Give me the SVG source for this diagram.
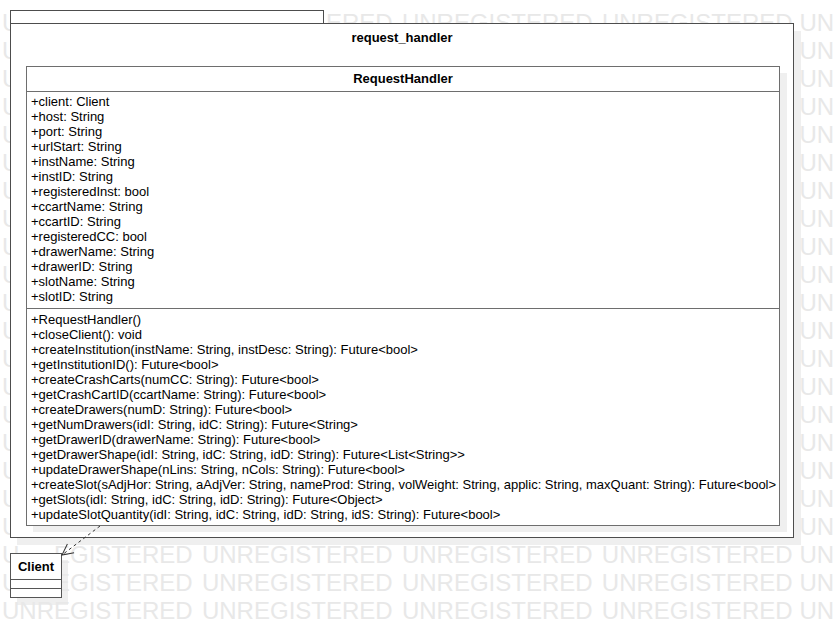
<svg xmlns="http://www.w3.org/2000/svg" width="834" height="638" viewBox="0 0 834 638">
  <defs>
    <style>
      .wm { font-family: "Liberation Sans", Arial, sans-serif; font-size: 24px; fill: #e8e8e8; word-spacing: 2.6px; }
      .shadow { fill: #efefef; stroke: none; }
      .box { fill: #ffffff; stroke: #6e6e6e; stroke-width: 1; }
      .pkg { fill: #ffffff; stroke: #4d4d4d; stroke-width: 1; }
      .sep { stroke: #6e6e6e; stroke-width: 1; fill: none; }
      .csep { stroke: #555555; stroke-width: 1; fill: none; }
      .title { font-family: "Liberation Sans", Arial, sans-serif; font-size: 13px; font-weight: bold; fill: #000000; text-anchor: middle; }
      .mem { font-family: "Liberation Sans", Arial, sans-serif; font-size: 13px; fill: #000000; }
      .dep { stroke: #333333; stroke-width: 1; fill: none; stroke-dasharray: 3 3; }
    </style>
    <marker id="openArrow" markerWidth="14" markerHeight="14" refX="12" refY="7" orient="auto" markerUnits="userSpaceOnUse">
      <path d="M1,1.5 L12,7 L1,12.5" fill="none" stroke="#333333" stroke-width="1"/>
    </marker>
  </defs>

  <rect width="834" height="638" fill="#ffffff"/>

  <!-- outer shadows -->
  <rect class="shadow" x="17" y="31" width="784" height="514"/>
  <rect class="shadow" x="17" y="560" width="51" height="45"/>

  <g id="watermark">
    <text class="wm" x="2" y="31">U</text>
    <text class="wm" x="326" y="31">ERED UNREGISTERED UNREGISTERED</text>
    <text class="wm" x="799.5" y="31">UN</text>
    <text class="wm" x="2" y="59">U</text><text class="wm" x="799.5" y="59">UN</text>
    <text class="wm" x="2" y="87">U</text><text class="wm" x="799.5" y="87">UN</text>
    <text class="wm" x="2" y="115">U</text><text class="wm" x="799.5" y="115">UN</text>
    <text class="wm" x="2" y="143">U</text><text class="wm" x="799.5" y="143">UN</text>
    <text class="wm" x="2" y="171">U</text><text class="wm" x="799.5" y="171">UN</text>
    <text class="wm" x="2" y="199">U</text><text class="wm" x="799.5" y="199">UN</text>
    <text class="wm" x="2" y="227">U</text><text class="wm" x="799.5" y="227">UN</text>
    <text class="wm" x="2" y="255">U</text><text class="wm" x="799.5" y="255">UN</text>
    <text class="wm" x="2" y="283">U</text><text class="wm" x="799.5" y="283">UN</text>
    <text class="wm" x="2" y="311">U</text><text class="wm" x="799.5" y="311">UN</text>
    <text class="wm" x="2" y="339">U</text><text class="wm" x="799.5" y="339">UN</text>
    <text class="wm" x="2" y="367">U</text><text class="wm" x="799.5" y="367">UN</text>
    <text class="wm" x="2" y="395">U</text><text class="wm" x="799.5" y="395">UN</text>
    <text class="wm" x="2" y="423">U</text><text class="wm" x="799.5" y="423">UN</text>
    <text class="wm" x="2" y="451">U</text><text class="wm" x="799.5" y="451">UN</text>
    <text class="wm" x="2" y="479">U</text><text class="wm" x="799.5" y="479">UN</text>
    <text class="wm" x="2" y="507">U</text><text class="wm" x="799.5" y="507">UN</text>
    <text class="wm" x="2" y="535">U</text><text class="wm" x="799.5" y="535">UN</text>
    <text class="wm" x="2" y="563">U</text>
    <text class="wm" x="54" y="563">EGISTERED UNREGISTERED UNREGISTERED UNREGISTERED</text>
    <text class="wm" x="799.5" y="563">UN</text>
    <text class="wm" x="2" y="591">U</text>
    <text class="wm" x="54" y="591">EGISTERED UNREGISTERED UNREGISTERED UNREGISTERED</text>
    <text class="wm" x="799.5" y="591">UN</text>
    <text class="wm" x="2" y="619">UNREGISTERED UNREGISTERED UNREGISTERED UNREGISTERED</text>
    <text class="wm" x="799.5" y="619">UN</text>
  </g>

  <g id="pkg_request_handler">
    <rect class="pkg" x="10.5" y="10.5" width="313" height="14"/>
    <rect class="pkg" x="10.5" y="23.5" width="783" height="514"/>
    <text class="title" x="402" y="42">request_handler</text>
  </g>

  <g id="class_RequestHandler">
    <rect class="shadow" x="33" y="73" width="754" height="459"/>
    <rect class="box" x="26.5" y="66.5" width="753" height="459"/>
    <line class="sep" x1="26.5" y1="91.5" x2="779.5" y2="91.5"/>
    <line class="sep" x1="26.5" y1="308.5" x2="779.5" y2="308.5"/>
    <text class="title" x="403" y="83">RequestHandler</text>
    <text class="mem" x="31" y="106">+client: Client</text>
    <text class="mem" x="31" y="121">+host: String</text>
    <text class="mem" x="31" y="136">+port: String</text>
    <text class="mem" x="31" y="151">+urlStart: String</text>
    <text class="mem" x="31" y="166">+instName: String</text>
    <text class="mem" x="31" y="181">+instID: String</text>
    <text class="mem" x="31" y="196">+registeredInst: bool</text>
    <text class="mem" x="31" y="211">+ccartName: String</text>
    <text class="mem" x="31" y="226">+ccartID: String</text>
    <text class="mem" x="31" y="241">+registeredCC: bool</text>
    <text class="mem" x="31" y="256">+drawerName: String</text>
    <text class="mem" x="31" y="271">+drawerID: String</text>
    <text class="mem" x="31" y="286">+slotName: String</text>
    <text class="mem" x="31" y="301">+slotID: String</text>
    <text class="mem" x="31" y="324">+RequestHandler()</text>
    <text class="mem" x="31" y="339">+closeClient(): void</text>
    <text class="mem" x="31" y="354">+createInstitution(instName: String, instDesc: String): Future&lt;bool&gt;</text>
    <text class="mem" x="31" y="369">+getInstitutionID(): Future&lt;bool&gt;</text>
    <text class="mem" x="31" y="384">+createCrashCarts(numCC: String): Future&lt;bool&gt;</text>
    <text class="mem" x="31" y="399">+getCrashCartID(ccartName: String): Future&lt;bool&gt;</text>
    <text class="mem" x="31" y="414">+createDrawers(numD: String): Future&lt;bool&gt;</text>
    <text class="mem" x="31" y="429">+getNumDrawers(idI: String, idC: String): Future&lt;String&gt;</text>
    <text class="mem" x="31" y="444">+getDrawerID(drawerName: String): Future&lt;bool&gt;</text>
    <text class="mem" x="31" y="459">+getDrawerShape(idI: String, idC: String, idD: String): Future&lt;List&lt;String&gt;&gt;</text>
    <text class="mem" x="31" y="474">+updateDrawerShape(nLins: String, nCols: String): Future&lt;bool&gt;</text>
    <text class="mem" x="31" y="489">+createSlot(sAdjHor: String, aAdjVer: String, nameProd: String, volWeight: String, applic: String, maxQuant: String): Future&lt;bool&gt;</text>
    <text class="mem" x="31" y="504">+getSlots(idI: String, idC: String, idD: String): Future&lt;Object&gt;</text>
    <text class="mem" x="31" y="519">+updateSlotQuantity(idI: String, idC: String, idD: String, idS: String): Future&lt;bool&gt;</text>
  </g>

  <g id="class_Client">
    <rect class="box" x="10.5" y="553.5" width="51" height="44" style="stroke:#555555"/>
    <line class="csep" x1="10.5" y1="579.5" x2="61.5" y2="579.5"/>
    <line class="csep" x1="10.5" y1="588.5" x2="61.5" y2="588.5"/>
    <text class="title" x="36" y="571">Client</text>
  </g>

  <g id="connectors">
    <line class="dep" x1="100" y1="526" x2="62" y2="555" marker-end="url(#openArrow)"/>
  </g>
</svg>
